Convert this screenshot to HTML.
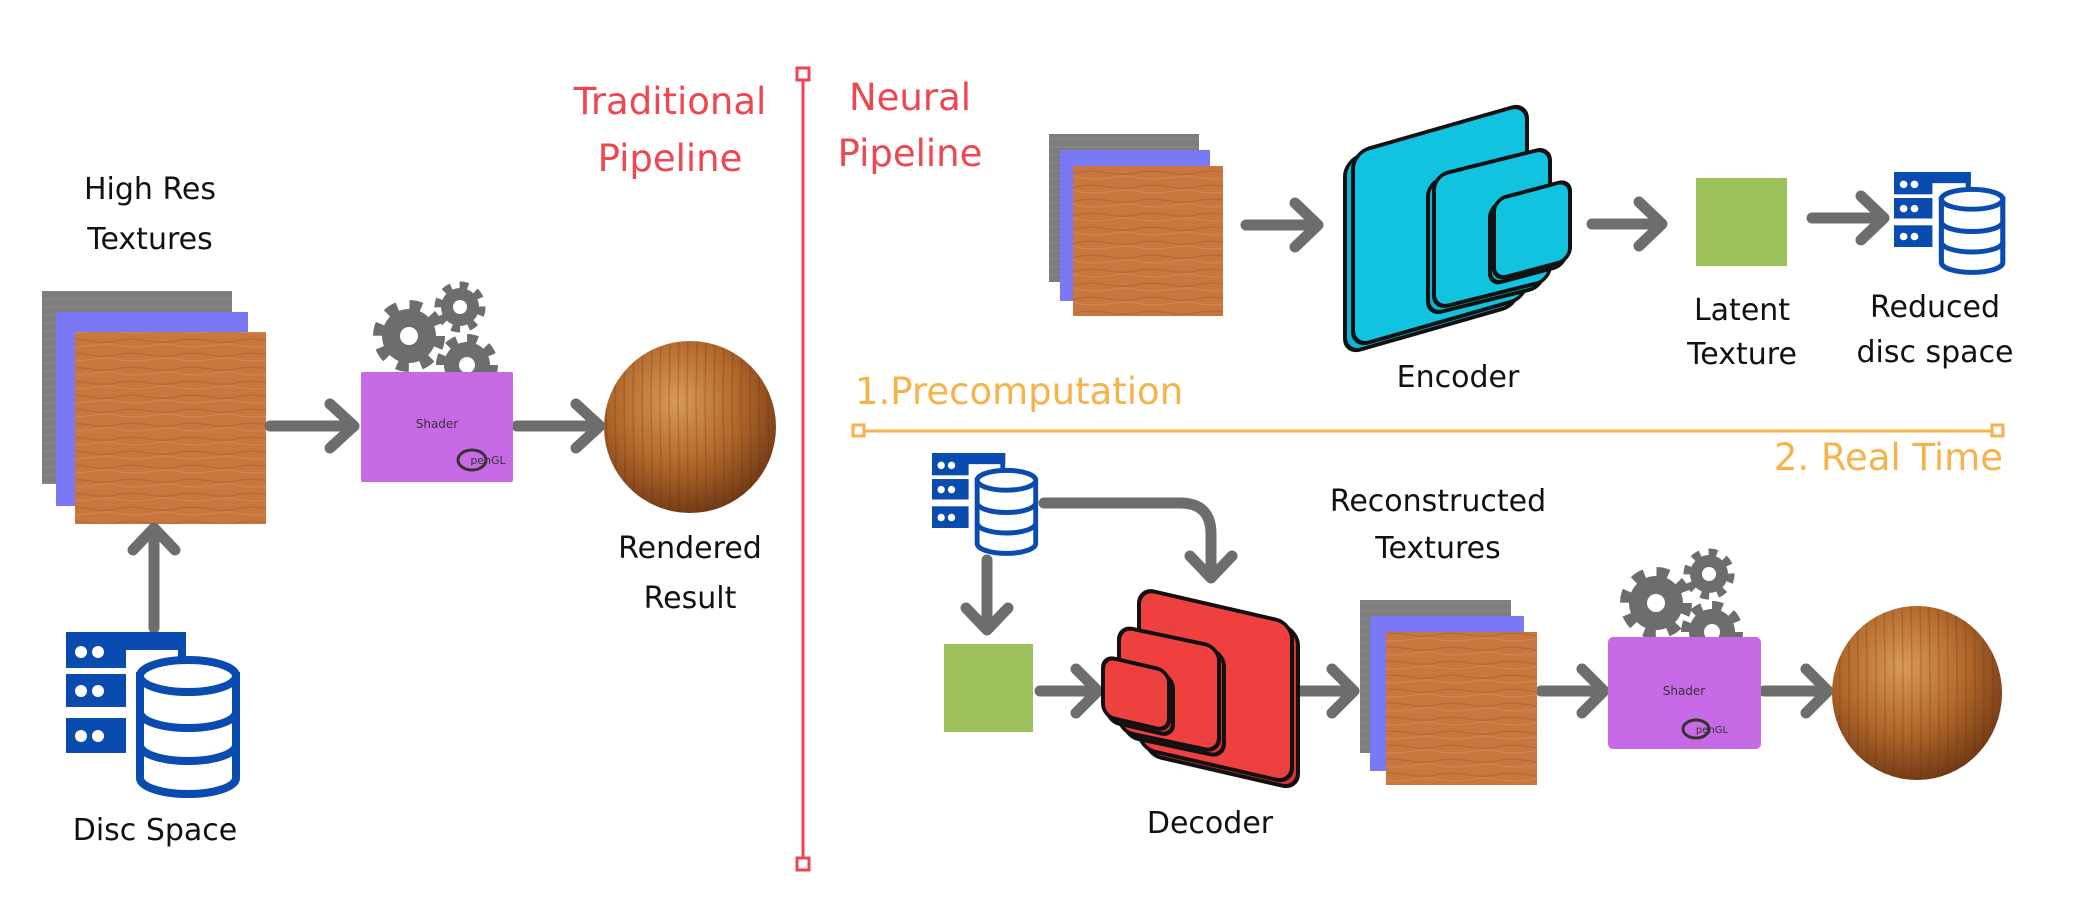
<!DOCTYPE html>
<html><head><meta charset="utf-8"><style>
html,body{margin:0;padding:0;background:#fff;}
svg{display:block;}
text{font-family:"DejaVu Sans","Liberation Sans",sans-serif;}
</style></head><body>
<svg width="2077" height="921" viewBox="0 0 2077 921" xmlns="http://www.w3.org/2000/svg">
<defs>
  <pattern id="grain" width="60" height="14" patternUnits="userSpaceOnUse">
    <rect width="60" height="14" fill="#c9773f"/>
    <path d="M0 4 Q15 2 30 5 T60 4" stroke="#a95a28" stroke-width="1.4" fill="none" opacity="0.5"/>
    <path d="M0 10 Q20 12 35 9 T60 10" stroke="#dc9260" stroke-width="1.2" fill="none" opacity="0.5"/>
  </pattern>
  <pattern id="gray" width="8" height="8" patternUnits="userSpaceOnUse">
    <rect width="8" height="8" fill="#7d7d7d"/><path d="M0 3 H8" stroke="#8d8d8d" stroke-width="1"/>
  </pattern>
  <radialGradient id="sph" cx="0.42" cy="0.35" r="0.7">
    <stop offset="0" stop-color="#d99a58"/>
    <stop offset="0.55" stop-color="#b0662a"/>
    <stop offset="1" stop-color="#6a3513"/>
  </radialGradient>
  <pattern id="sphstripe" width="9" height="200" patternUnits="userSpaceOnUse">
    <path d="M3 0 Q5 100 3 200" stroke="#5a2a0c" stroke-width="1.5" fill="none" opacity="0.25"/>
  </pattern>
  <g id="db">
    <rect x="0" y="0" width="120" height="18" fill="#0a4bb0"/>
    <rect x="112" y="0" width="8" height="30" fill="#0a4bb0"/>
    <rect x="0" y="0" width="60" height="36" fill="#0a4bb0"/>
    <rect x="0" y="42" width="60" height="33" fill="#0a4bb0"/>
    <rect x="0" y="86" width="60" height="35" fill="#0a4bb0"/>
    <circle cx="15" cy="20" r="6" fill="#fff"/><circle cx="32" cy="20" r="6" fill="#fff"/>
    <circle cx="15" cy="59" r="6" fill="#fff"/><circle cx="32" cy="59" r="6" fill="#fff"/>
    <circle cx="15" cy="104" r="6" fill="#fff"/><circle cx="32" cy="104" r="6" fill="#fff"/>
    <path d="M74 44 V146 A48 16 0 0 0 170 146 V44 Z" fill="#fff" stroke="#0a4bb0" stroke-width="8"/>
    <ellipse cx="122" cy="44" rx="48" ry="16" fill="#fff" stroke="#0a4bb0" stroke-width="8"/>
    <path d="M74 80 A48 16 0 0 0 170 80" fill="none" stroke="#0a4bb0" stroke-width="8"/>
    <path d="M74 113 A48 16 0 0 0 170 113" fill="none" stroke="#0a4bb0" stroke-width="8"/>
  </g>
</defs>

<line x1="803" y1="76" x2="803" y2="862" stroke="#ef4650" stroke-width="3"/>
<rect x="797" y="68" width="12" height="12" fill="#fff" stroke="#ef4650" stroke-width="3"/>
<rect x="797" y="858" width="12" height="12" fill="#fff" stroke="#ef4650" stroke-width="3"/>
<line x1="864" y1="431" x2="1992" y2="431" stroke="#f7b24a" stroke-width="3"/>
<rect x="853" y="425" width="11" height="11" fill="#fff" stroke="#f7b24a" stroke-width="3"/>
<rect x="1992" y="425" width="11" height="11" fill="#fff" stroke="#f7b24a" stroke-width="3"/>

<g fill="#ef4650" font-size="37" text-anchor="middle">
  <text x="670" y="114">Traditional</text>
  <text x="670" y="171">Pipeline</text>
  <text x="910" y="110">Neural</text>
  <text x="910" y="166">Pipeline</text>
</g>
<text x="855" y="404" fill="#f7b24a" font-size="37">1.Precomputation</text>
<text x="2003" y="470" fill="#f7b24a" font-size="37" text-anchor="end">2. Real Time</text>

<g fill="#111" font-size="30" text-anchor="middle">
  <text x="150" y="199">High Res</text>
  <text x="150" y="249">Textures</text>
  <text x="690" y="558">Rendered</text>
  <text x="690" y="608">Result</text>
  <text x="155" y="840">Disc Space</text>
  <text x="1458" y="387">Encoder</text>
  <text x="1742" y="320">Latent</text>
  <text x="1742" y="364">Texture</text>
  <text x="1935" y="317">Reduced</text>
  <text x="1935" y="362">disc space</text>
  <text x="1438" y="511">Reconstructed</text>
  <text x="1438" y="558">Textures</text>
  <text x="1210" y="833">Decoder</text>
</g>

<rect x="42" y="291" width="190" height="193" fill="url(#gray)"/>
<rect x="56" y="312" width="192" height="194" fill="#7b78f6"/>
<rect x="75" y="332" width="191" height="192" fill="url(#grain)"/>

<g stroke="#6d6d6d" stroke-width="11" fill="none" stroke-linecap="round" stroke-linejoin="round">
  <line x1="270" y1="426" x2="352" y2="426"/><polyline points="330,404 354,426 330,448"/>
  <line x1="517" y1="426" x2="598" y2="426"/><polyline points="576,404 600,426 576,448"/>
  <line x1="154" y1="628" x2="154" y2="530"/><polyline points="133,550 154,528 175,550"/>
  <line x1="1246" y1="225" x2="1316" y2="225"/><polyline points="1295,203 1318,225 1295,247"/>
  <line x1="1592" y1="224" x2="1660" y2="224"/><polyline points="1639,202 1662,224 1639,246"/>
  <line x1="1812" y1="218" x2="1882" y2="218"/><polyline points="1861,196 1884,218 1861,240"/>
  <line x1="987" y1="560" x2="987" y2="628"/><polyline points="966,608 987,630 1008,608"/>
  <path d="M1044 503 H1180 Q1211 503 1211 534 V576"/><polyline points="1190,556 1211,578 1232,556"/>
  <line x1="1040" y1="691" x2="1096" y2="691"/><polyline points="1076,669 1098,691 1076,713"/>
  <line x1="1296" y1="691" x2="1352" y2="691"/><polyline points="1332,669 1354,691 1332,713"/>
  <line x1="1541" y1="691" x2="1602" y2="691"/><polyline points="1582,669 1604,691 1582,713"/>
  <line x1="1764" y1="691" x2="1826" y2="691"/><polyline points="1806,669 1828,691 1806,713"/>
</g>

<g fill="#6d6d6d">
  <g transform="translate(409,336)"><circle r="27"/><circle r="30" fill="none" stroke="#6d6d6d" stroke-width="12" stroke-dasharray="11.8 11.8"/><circle r="9" fill="#fff"/></g>
  <g transform="translate(460,307)"><circle r="19"/><circle r="21" fill="none" stroke="#6d6d6d" stroke-width="9" stroke-dasharray="8.2 8.2"/><circle r="7" fill="#fff"/></g>
  <g transform="translate(467,365)"><circle r="23"/><circle r="26" fill="none" stroke="#6d6d6d" stroke-width="10" stroke-dasharray="10.2 10.2"/><circle r="8" fill="#fff"/></g>
</g>
<rect x="361" y="372" width="152" height="110" fill="#c86ae6" rx="2"/>
<text x="437" y="428" font-size="12" fill="#333" text-anchor="middle">Shader</text>
<ellipse cx="472" cy="460" rx="14" ry="10" fill="none" stroke="#333" stroke-width="3"/>
<text x="488" y="464" font-size="11" fill="#333" text-anchor="middle">penGL</text>

<ellipse cx="690" cy="427" rx="86" ry="86" fill="url(#sph)"/>
<ellipse cx="690" cy="427" rx="86" ry="86" fill="url(#sphstripe)"/>

<use href="#db" transform="translate(66,632)"/>

<rect x="1049" y="134" width="150" height="148" fill="url(#gray)"/>
<rect x="1060" y="150" width="150" height="151" fill="#7b78f6"/>
<rect x="1073" y="166" width="150" height="150" fill="url(#grain)"/>

<!-- Encoder -->
<g stroke="#111" stroke-width="4" stroke-linejoin="round">
  <g transform="translate(1345,160) skewY(-16)"><rect width="174" height="194" rx="16" fill="#0fb4d0"/></g>
  <g transform="translate(1353,153) skewY(-16)"><rect width="174" height="194" rx="16" fill="#12c3e0"/></g>
  <g transform="translate(1428,182) skewY(-14)"><rect width="116" height="133" rx="14" fill="#0fb4d0"/></g>
  <g transform="translate(1434,176) skewY(-14)"><rect width="116" height="133" rx="14" fill="#12c3e0"/></g>
  <g transform="translate(1490,205) skewY(-15)"><rect width="76" height="80" rx="12" fill="#0fb4d0"/></g>
  <g transform="translate(1494,200) skewY(-15)"><rect width="76" height="80" rx="12" fill="#12c3e0"/></g>
</g>

<rect x="1696" y="178" width="91" height="88" fill="#9dc15a"/>
<use href="#db" transform="translate(1894,172) scale(0.64,0.62)"/>

<use href="#db" transform="translate(932,453) scale(0.61,0.62)"/>
<rect x="944" y="644" width="89" height="88" fill="#9dc15a"/>

<!-- Decoder -->
<g stroke="#111" stroke-width="4" stroke-linejoin="round">
  <g transform="translate(1145,594) skewY(13)"><rect width="153" height="160" rx="16" fill="#d83636"/></g>
  <g transform="translate(1139,588) skewY(13)"><rect width="153" height="160" rx="16" fill="#ef4040"/></g>
  <g transform="translate(1124,631) skewY(12)"><rect width="100" height="105" rx="14" fill="#d83636"/></g>
  <g transform="translate(1119,626) skewY(12)"><rect width="100" height="105" rx="14" fill="#ef4040"/></g>
  <g transform="translate(1107,661) skewY(13)"><rect width="66" height="60" rx="12" fill="#d83636"/></g>
  <g transform="translate(1103,656) skewY(13)"><rect width="66" height="60" rx="12" fill="#ef4040"/></g>
</g>

<rect x="1360" y="600" width="151" height="153" fill="url(#gray)"/>
<rect x="1370" y="616" width="154" height="155" fill="#7b78f6"/>
<rect x="1386" y="632" width="151" height="153" fill="url(#grain)"/>

<g fill="#6d6d6d">
  <g transform="translate(1656,603)"><circle r="27"/><circle r="30" fill="none" stroke="#6d6d6d" stroke-width="12" stroke-dasharray="11.8 11.8"/><circle r="9" fill="#fff"/></g>
  <g transform="translate(1709,574)"><circle r="19"/><circle r="21" fill="none" stroke="#6d6d6d" stroke-width="9" stroke-dasharray="8.2 8.2"/><circle r="7" fill="#fff"/></g>
  <g transform="translate(1712,632)"><circle r="23"/><circle r="26" fill="none" stroke="#6d6d6d" stroke-width="10" stroke-dasharray="10.2 10.2"/><circle r="8" fill="#fff"/></g>
</g>
<rect x="1608" y="637" width="153" height="112" fill="#c86ae6" rx="5"/>
<text x="1684" y="695" font-size="12" fill="#333" text-anchor="middle">Shader</text>
<ellipse cx="1696" cy="729" rx="13" ry="9" fill="none" stroke="#333" stroke-width="3"/>
<text x="1712" y="733" font-size="10" fill="#333" text-anchor="middle">penGL</text>

<ellipse cx="1917" cy="693" rx="85" ry="87" fill="url(#sph)"/>
<ellipse cx="1917" cy="693" rx="85" ry="87" fill="url(#sphstripe)"/>
</svg>
</body></html>
